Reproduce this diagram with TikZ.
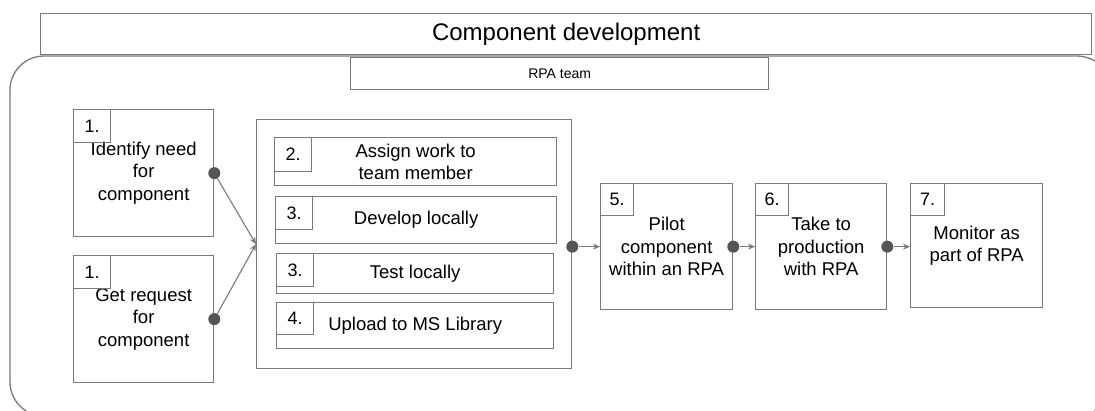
\documentclass[tikz,border=0pt]{standalone}
\usepackage{fontspec}
\setmainfont{Liberation Sans}
\usetikzlibrary{arrows.meta,calc}

\definecolor{linegray}{HTML}{7A7A7A}
\definecolor{dotgray}{HTML}{555555}

\begin{document}
\begin{tikzpicture}[x=1pt,y=-1pt,
  outline/.style={draw=linegray, line width=1.3pt},
  box/.style={outline, rectangle, inner sep=0pt, anchor=north west, align=center,
    font=\fontsize{18.5}{22.5}\selectfont},
  numbox/.style={outline, rectangle, inner sep=0pt, anchor=north west,
    minimum width=37pt, minimum height=33pt, font=\fontsize{18}{20}\selectfont},
  dot/.style={circle, fill=dotgray, inner sep=0pt, minimum size=12pt},
  link/.style={draw=linegray, line width=1.1pt, -{Stealth[length=7pt,width=6pt]}},
]
\useasboundingbox (0,0) rectangle (1095,410);
\begin{scope}
  \clip (0,0) rectangle (1095,410);
  % team container
  \draw[outline, rounded corners=34pt] (10,56) rectangle (1111,416);
\end{scope}

% header
\node[box, minimum width=1051pt, minimum height=41pt, font=\fontsize{24}{28}\selectfont]
  (title) at (40,13) {Component development};
\node[box, minimum width=418pt, minimum height=32pt, font=\fontsize{14}{16}\selectfont]
  (team) at (350,57) {RPA team};

% step 1 boxes
\node[box, minimum width=140pt, minimum height=127pt] (s1a) at (73,109)
  {Identify need\\for\\component};
\node[numbox] (n1a) at (73,109) {1.};
\node[box, minimum width=140pt, minimum height=127pt] (s1b) at (73,255)
  {Get request\\for\\component};
\node[numbox] (n1b) at (73,255) {1.};

% grouped steps 2-4
\node[box, minimum width=315pt, minimum height=249pt] (group) at (256,119) {};
\node[box, minimum width=282pt, minimum height=48pt] (s2) at (274,137)
  {Assign work to\\team member};
\node[numbox, minimum height=34pt] (n2) at (274,137) {2.};
\node[box, minimum width=281pt, minimum height=47pt] (s3a) at (275,196)
  {Develop locally};
\node[numbox] (n3a) at (275,196) {3.};
\node[box, minimum width=277pt, minimum height=40pt] (s3b) at (276,253)
  {Test locally};
\node[numbox] (n3b) at (276,253) {3.};
\node[box, minimum width=277pt, minimum height=46pt] (s4) at (276,302)
  {Upload to MS Library};
\node[numbox, minimum height=32pt] (n4) at (276,302) {4.};

% steps 5-7
\node[box, minimum width=132pt, minimum height=126pt] (s5) at (600,183)
  {Pilot\\component\\within an RPA};
\node[numbox, minimum width=33pt, minimum height=32pt] (n5) at (600,183) {5.};
\node[box, minimum width=131pt, minimum height=126pt] (s6) at (755,183)
  {Take to\\production\\with RPA};
\node[numbox, minimum width=33pt, minimum height=32pt] (n6) at (755,183) {6.};
\node[box, minimum width=132pt, minimum height=124pt] (s7) at (910,183)
  {Monitor as\\part of RPA};
\node[numbox, minimum width=34pt, minimum height=32pt] (n7) at (910,183) {7.};

% connectors
\node[dot] (d1a) at (s1a.east) {};
\node[dot] (d1b) at (s1b.east) {};
\node[dot] (dg) at (group.east |- s5.west) {};
\node[dot] (d5) at (s5.east) {};
\node[dot] (d6) at (s6.east) {};

\draw[link] (d1a) -- (group.west);
\draw[link] (d1b) -- (group.west);
\draw[link] (dg) -- (s5.west);
\draw[link] (d5) -- (d5 -| s6.west);
\draw[link] (d6) -- (d6 -| s7.west);
\end{tikzpicture}
\end{document}
